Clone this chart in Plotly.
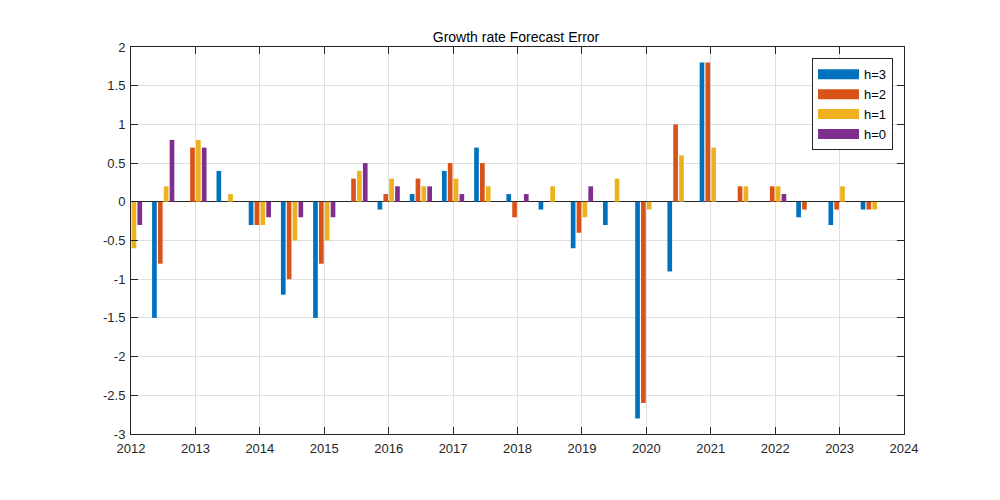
import plotly.graph_objects as go

periods = [2012.0 + 0.5 * i for i in range(24)]
h3 = [None, -1.5, 0.0, 0.4, -0.3, -1.2, -1.5, 0.0, -0.1, 0.1, 0.4, 0.7,
      0.1, -0.1, -0.6, -0.3, -2.8, -0.9, 1.8, 0.0, 0.0, -0.2, -0.3, -0.1]
h2 = [None, -0.8, 0.7, 0.0, -0.3, -1.0, -0.8, 0.3, 0.1, 0.3, 0.5, 0.5,
      -0.2, 0.0, -0.4, 0.0, -2.6, 1.0, 1.8, 0.2, 0.2, -0.1, -0.1, -0.1]
h1 = [-0.6, 0.2, 0.8, 0.1, -0.3, -0.5, -0.5, 0.4, 0.3, 0.2, 0.3, 0.2,
      0.0, 0.2, -0.2, 0.3, -0.1, 0.6, 0.7, 0.2, 0.2, 0.0, 0.2, -0.1]
h0 = [-0.3, 0.8, 0.7, 0.0, -0.2, -0.2, -0.2, 0.5, 0.2, 0.2, 0.1, 0.0,
      0.1, 0.0, 0.2, 0.0, 0.0, 0.0, 0.0, 0.0, 0.1, 0.0, 0.0, 0.0]
series_names = ["h=3", "h=2", "h=1", "h=0"]
series_values = [h3, h2, h1, h0]
colors = ["#0072BD", "#D95319", "#EDB120", "#7E2F8E"]

x_ticks = list(range(2012, 2025))
y_ticks = [-3, -2.5, -2, -1.5, -1, -0.5, 0, 0.5, 1, 1.5, 2]
y_labels = ["-3", "-2.5", "-2", "-1.5", "-1", "-0.5", "0", "0.5", "1", "1.5", "2"]

fig = go.Figure()
for name, vals, c in zip(series_names, series_values, colors):
    fig.add_trace(go.Bar(x=periods, y=vals, name=name, marker_color=c,
                         marker_line_width=0, showlegend=False))
for name, c in zip(series_names, colors):
    fig.add_trace(go.Scatter(x=[None], y=[None], mode="lines", name=name,
                             line=dict(color=c, width=12)))

axis_common = dict(showline=True, linecolor="#262626", linewidth=1,
                   mirror="ticks", ticks="inside", ticklen=7, tickcolor="#262626",
                   showgrid=True, gridcolor="#dfdfdf", gridwidth=1,
                   tickfont=dict(family="Liberation Sans, Arial", size=13, color="#262626"))

fig.update_layout(
    width=1000, height=500,
    paper_bgcolor="white", plot_bgcolor="white",
    margin=dict(l=123, r=104, t=39, b=74),
    barmode="group", bargap=0.273, bargroupgap=0.2,
    title=dict(text="Growth rate Forecast Error", x=0.508, xanchor="center",
               y=0.941, yanchor="middle",
               font=dict(family="Liberation Sans, Arial", size=14, color="#000000")),
    xaxis=dict(range=[2012, 2024], tickvals=x_ticks, ticktext=[str(t) for t in x_ticks],
               zeroline=False, ticklabelstandoff=2, **axis_common),
    yaxis=dict(range=[-3, 2], tickvals=y_ticks, ticktext=y_labels,
               zeroline=True, zerolinecolor="#262626", zerolinewidth=1,
               ticklabelstandoff=2, **axis_common),
    legend=dict(x=0.9858, y=0.9708, xanchor="right", yanchor="top",
                bgcolor="white", bordercolor="#262626", borderwidth=1,
                font=dict(family="Liberation Sans, Arial", size=13, color="#000000"),
                itemwidth=41, tracegroupgap=0),
    showlegend=True,
)

fig.write_html("out.html")
